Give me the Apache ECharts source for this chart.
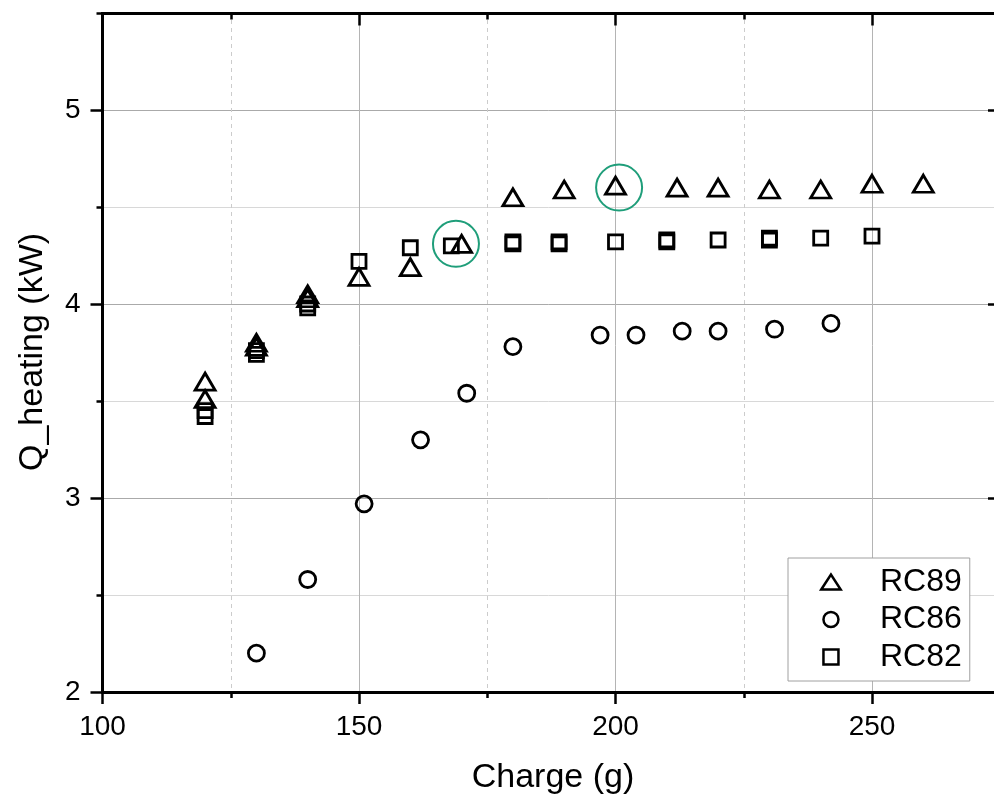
<!DOCTYPE html>
<html><head><meta charset="utf-8">
<script src="https://cdn.jsdelivr.net/npm/echarts@6/dist/echarts.min.js"></script>
<style>html,body{margin:0;padding:0;background:#fff}#c{width:994px;height:799px}</style>
</head><body><div id="c"></div>
<script>
// ---- data ----
const rc89X = [120,120,130,130,140,140,150,160,170,180,190,200,212,220,230,240,250,260];
const rc89Y = [3.60,3.51,3.80,3.78,4.05,4.03,4.14,4.19,4.31,4.55,4.59,4.61,4.60,4.60,4.59,4.59,4.62,4.62];
const rc86X = [130,140,151,162,171,180,197,204,213,220,231,242];
const rc86Y = [2.20,2.58,2.97,3.30,3.54,3.78,3.84,3.84,3.86,3.86,3.87,3.90];
const rc82X = [120,120,130,130,140,140,150,160,168,180,180,189,189,200,210,210,220,230,230,240,250];
const rc82Y = [3.45,3.42,3.76,3.74,4.00,3.98,4.22,4.29,4.30,4.32,4.31,4.32,4.31,4.32,4.33,4.32,4.33,4.34,4.33,4.34,4.35];
const highlightX = [168.9, 200.7];
const highlightY = [4.31, 4.60];
const xTickLabels = [100,150,200,250];
const yTickLabels = [2,3,4,5];
const seriesNames = ['RC89','RC86','RC82'];
const xTitle = 'Charge (g)';
const yTitle = 'Q_heating (kW)';

const FONT = '"Liberation Sans", Arial, sans-serif';
const chart = echarts.init(document.getElementById('c'));
const pairs = (xs, ys) => xs.map((x, i) => [x, ys[i]]);
const axisLine = {show:true, onZero:false, lineStyle:{color:'#000', width:3}};
const tickStyle = {color:'#000', width:2.5};
const markerStyle = {color:'transparent', borderColor:'#000', borderWidth:2.8, opacity:1};

chart.setOption({
  animation:false,
  backgroundColor:'#fff',
  grid:{left:102.5, right:-134.5, top:-84, bottom:107, containLabel:false, outerBoundsMode:'none'},
  xAxis:[
    {type:'value', position:'bottom', min:100, max:300, interval:50,
     axisLine:axisLine,
     axisTick:{show:true, inside:false, length:12, lineStyle:tickStyle},
     minorTick:{show:true, splitNumber:2, length:6, lineStyle:tickStyle},
     axisLabel:{margin:21, fontSize:28, color:'#000', fontFamily:FONT,
       formatter:v => xTickLabels.indexOf(v) >= 0 ? String(v) : ''},
     splitLine:{show:true, lineStyle:{color:'#b4b4b4', width:1}},
     minorSplitLine:{show:true, lineStyle:{color:'#cccccc', width:1, type:[4,4]}}},
    {type:'value', position:'top', offset:-97.5, min:100, max:300, interval:50,
     axisLine:axisLine,
     axisTick:{show:true, inside:true, length:12, lineStyle:tickStyle},
     minorTick:{show:true, splitNumber:2, length:6, lineStyle:tickStyle},
     axisLabel:{show:false}, splitLine:{show:false}}
  ],
  yAxis:[
    {type:'value', position:'left', min:2, max:6, interval:1,
     axisLine:axisLine,
     axisTick:{show:true, inside:false, length:12, lineStyle:tickStyle},
     minorTick:{show:true, splitNumber:2, length:6, lineStyle:tickStyle},
     axisLabel:{margin:22, fontSize:28, color:'#000', fontFamily:FONT,
       formatter:v => yTickLabels.indexOf(v) >= 0 ? String(v) : ''},
     splitLine:{show:true, lineStyle:{color:'#aaaaaa', width:1}},
     minorSplitLine:{show:true, lineStyle:{color:'#d8d8d8', width:1}}},
    {type:'value', position:'right', offset:-128.5, min:2, max:6, interval:1,
     axisLine:axisLine,
     axisTick:{show:true, inside:true, length:12, lineStyle:tickStyle},
     minorTick:{show:true, splitNumber:2, length:6, lineStyle:tickStyle},
     axisLabel:{show:false}, splitLine:{show:false}}
  ],
  legend:{
    data:[
      {name:seriesNames[0], icon:'path://M0,17L11,0L22,17Z'},
      {name:seriesNames[1], icon:'circle'},
      {name:seriesNames[2], icon:'path://M0,0L14,0L14,14L0,14Z'}
    ],
    orient:'vertical', left:788, top:558, padding:[8,8,8,32],
    itemWidth:40, itemHeight:15, itemGap:5.5,
    backgroundColor:'#fff', borderColor:'#a0a0a0', borderWidth:1, borderRadius:0,
    textStyle:{fontSize:32, color:'#000', fontFamily:FONT, padding:[0,0,0,24]},
    itemStyle:{color:'transparent', borderColor:'#000', borderWidth:2.5, opacity:1},
    selectedMode:false
  },
  series:[
    {name:seriesNames[0], type:'scatter', data:pairs(rc89X, rc89Y), symbol:'triangle',
     symbolSize:[20,17], itemStyle:markerStyle, emphasis:{disabled:true}},
    {name:seriesNames[1], type:'scatter', data:pairs(rc86X, rc86Y), symbol:'circle',
     symbolSize:16, itemStyle:markerStyle, emphasis:{disabled:true}},
    {name:seriesNames[2], type:'scatter', data:pairs(rc82X, rc82Y), symbol:'rect',
     symbolSize:14, itemStyle:markerStyle, emphasis:{disabled:true}},
    {name:'highlight', type:'scatter', data:pairs(highlightX, highlightY), symbol:'circle',
     symbolSize:46, itemStyle:{color:'transparent', borderColor:'#1f9e7a', borderWidth:2, opacity:1},
     emphasis:{disabled:true}}
  ],
  graphic:[
    {type:'rect', left:0, top:0, z:100, shape:{width:994, height:12}, style:{fill:'#fff'}},
    {type:'text', x:553, y:778, z:100,
     style:{text:xTitle, fontSize:34, fontFamily:FONT, fill:'#000', align:'center', verticalAlign:'middle'}},
    {type:'text', x:33, y:352, rotation:Math.PI/2, z:100,
     style:{text:yTitle, fontSize:34, fontFamily:FONT, fill:'#000', align:'center', verticalAlign:'middle'}}
  ]
});
</script></body></html>
